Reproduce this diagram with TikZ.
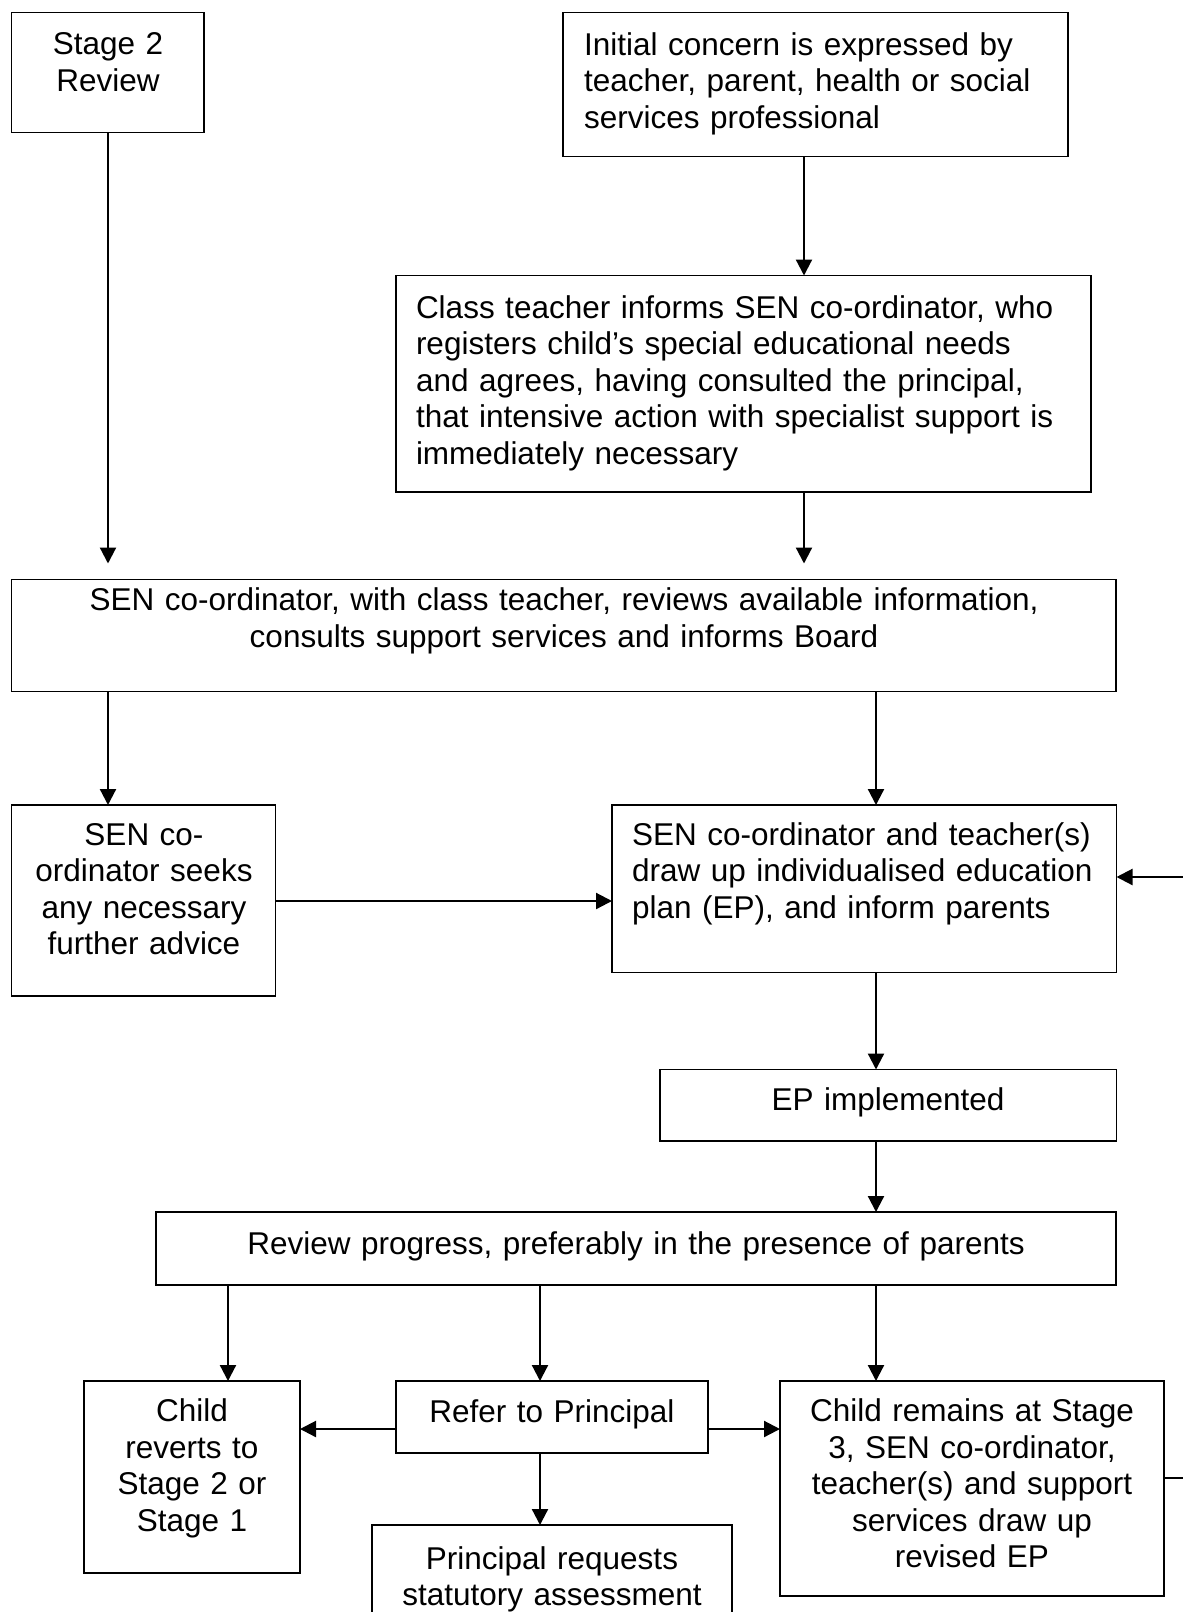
\documentclass[tikz,border=0pt]{standalone}
\usepackage{fontspec}
\setmainfont{Liberation Sans}
\usetikzlibrary{arrows.meta}
\begin{document}
\begin{tikzpicture}[x=1pt,y=-1pt,
  box/.style={draw, line width=1.8pt, inner sep=0pt, outer sep=0pt, anchor=north west},
  txt/.style={inner sep=0pt, outer sep=0pt, font=\fontsize{31.5}{36.6}\selectfont},
  ltxt/.style={txt, align=left, text width=700pt, anchor=base west},
  ctxt/.style={txt, align=center, text width=1000pt, anchor=base},
  arr/.style={line width=2.2pt, -{Triangle[length=16pt,width=16pt]}}]
\useasboundingbox (0,0) rectangle (1183,1612);
\clip (0,0) rectangle (1183,1612);
% boxes
\node[box, minimum width=192.5pt, minimum height=120pt] (stage2) at (11.5,12.5) {};
\node[box, minimum width=505pt, minimum height=144pt] (init) at (563,12.5) {};
\node[box, minimum width=695pt, minimum height=216.5pt] (class) at (396,275.5) {};
\node[box, minimum width=1104.5pt, minimum height=112pt] (review1) at (11.5,579.5) {};
\node[box, minimum width=264pt, minimum height=191pt] (seeks) at (11.5,805) {};
\node[box, minimum width=504.5pt, minimum height=167.5pt] (epdraw) at (612,805) {};
\node[box, minimum width=456.5pt, minimum height=71.5pt] (epimpl) at (660,1069.5) {};
\node[box, minimum width=960pt, minimum height=73pt] (reviewprog) at (156,1212) {};
\node[box, minimum width=216pt, minimum height=192pt] (child) at (84,1381) {};
\node[box, minimum width=312pt, minimum height=72pt] (refer) at (396,1381) {};
\node[box, minimum width=360pt, minimum height=130pt] (principal) at (372,1525) {};
\node[box, minimum width=384pt, minimum height=215pt] (revised) at (780,1381) {};
% texts
\node[ctxt] (stage2T) at (108,54.5) {Stage 2\\Review};
\node[ltxt] (initT) at (584,55) {Initial concern is expressed by\\teacher, parent, health or social\\services professional};
\node[ltxt] (classT) at (416,318) {Class teacher informs SEN co-ordinator, who\\registers child’s special educational needs\\and agrees, having consulted the principal,\\that intensive action with specialist support is\\immediately necessary};
\node[ctxt] (review1T) at (564,610.5) {SEN co-ordinator, with class teacher, reviews available information,\\consults support services and informs Board};
\node[ctxt] (seeksT) at (144,845) {SEN co-\\ordinator seeks\\any necessary\\further advice};
\node[ltxt] (epdrawT) at (632,845) {SEN co-ordinator and teacher(s)\\draw up individualised education\\plan (EP), and inform parents};
\node[ctxt] (epimplT) at (888,1110.5) {EP implemented};
\node[ctxt] (reviewprogT) at (636,1254) {Review progress, preferably in the presence of parents};
\node[ctxt] (childT) at (192,1421.5) {Child\\reverts to\\Stage 2 or\\Stage 1};
\node[ctxt] (referT) at (552,1422.5) {Refer to Principal};
\node[ctxt] (principalT) at (552,1569) {Principal requests\\statutory assessment};
\node[ctxt] (revisedT) at (972,1421.5) {Child remains at Stage\\3, SEN co-ordinator,\\teacher(s) and support\\services draw up\\revised EP};
% helper coordinates
\coordinate (xL) at (108,0);
\coordinate (xA) at (804,0);
\coordinate (xB) at (876,0);
\coordinate (xC) at (228,0);
\coordinate (xD) at (540,0);
\coordinate (ySeek) at (0,901);
\coordinate (yRef) at (0,1429);
\coordinate (fb1) at (1200,1478);
\coordinate (fb2) at (1200,877);
% connectors
\draw[arr, shorten >=16pt] (stage2.south -| xL) -- (review1.north -| xL);
\draw[arr] (init.south -| xA) -- (class.north -| xA);
\draw[arr, shorten >=16pt] (class.south -| xA) -- (review1.north -| xA);
\draw[arr] (review1.south -| xL) -- (seeks.north -| xL);
\draw[arr] (review1.south -| xB) -- (epdraw.north -| xB);
\draw[arr] (seeks.east |- ySeek) -- (epdraw.west |- ySeek);
\draw[arr] (epdraw.south -| xB) -- (epimpl.north -| xB);
\draw[arr] (epimpl.south -| xB) -- (reviewprog.north -| xB);
\draw[arr] (reviewprog.south -| xC) -- (child.north -| xC);
\draw[arr] (reviewprog.south -| xD) -- (refer.north -| xD);
\draw[arr] (reviewprog.south -| xB) -- (revised.north -| xB);
\draw[arr] (refer.west |- yRef) -- (child.east |- yRef);
\draw[arr] (refer.east |- yRef) -- (revised.west |- yRef);
\draw[arr] (refer.south -| xD) -- (principal.north -| xD);
\draw[arr] (revised.east |- fb1) -- (fb1) -- (fb2) -- (epdraw.east |- fb2);
\end{tikzpicture}
\end{document}
